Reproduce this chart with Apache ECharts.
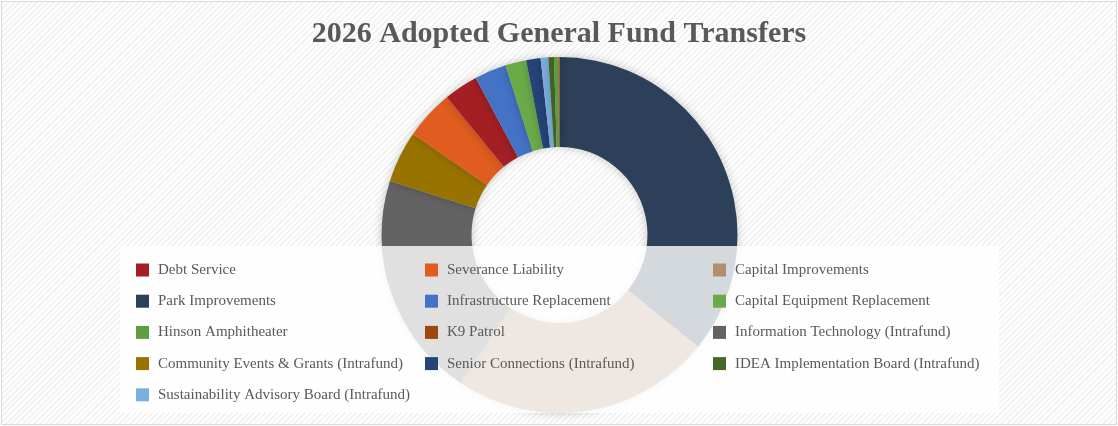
<!DOCTYPE html>
<html>
<head>
<meta charset="utf-8">
<script src="https://cdn.jsdelivr.net/npm/echarts@6/dist/echarts.min.js"></script>
<style>
  html, body {
    margin: 0;
    padding: 0;
    background: #fff;
  }
  .frame {
    position: absolute;
    left: 1px;
    top: 1px;
    width: 1114px;
    height: 422px;
    border: 1px solid #d9d9d9;
    background-color: #fff;
    background-image: repeating-linear-gradient(135deg, #f3f3f3 0px, #f3f3f3 2px, #fff 2px, #fff 4px);
  }
  #chart {
    position: absolute;
    left: 0;
    top: 0;
    width: 1118px;
    height: 426px;
  }
</style>
</head>
<body>
<div class="frame"></div>
<div id="chart"></div>
<script>
// slices in clockwise order from 12 o'clock (values in % of total)
var sliceNames = [
  "Park Improvements",
  "Capital Improvements",
  "Information Technology (Intrafund)",
  "Community Events & Grants (Intrafund)",
  "Severance Liability",
  "Debt Service",
  "Infrastructure Replacement",
  "Capital Equipment Replacement",
  "Senior Connections (Intrafund)",
  "Sustainability Advisory Board (Intrafund)",
  "IDEA Implementation Board (Intrafund)",
  "Hinson Amphitheater",
  "K9 Patrol"
];
var sliceValues = [35.8, 23.6, 20.5, 4.7, 4.5, 3.1, 2.9, 1.9, 1.3, 0.7, 0.5, 0.4, 0.1];
var sliceColors = [
  "#2c4059", "#b08e6e", "#636363", "#997300", "#e05c1f", "#a31f24",
  "#4472c4", "#6aab48", "#264478", "#7cafdd", "#43682b", "#5e9e3c", "#9e480e"
];

// legend columns as laid out in the picture
var legendCol1 = ["Debt Service", "Park Improvements", "Hinson Amphitheater",
  "Community Events & Grants (Intrafund)", "Sustainability Advisory Board (Intrafund)"];
var legendCol2 = ["Severance Liability", "Infrastructure Replacement", "K9 Patrol",
  "Senior Connections (Intrafund)"];
var legendCol3 = ["Capital Improvements", "Capital Equipment Replacement",
  "Information Technology (Intrafund)", "IDEA Implementation Board (Intrafund)"];

var pieData = sliceNames.map(function (n, i) {
  return { name: n, value: sliceValues[i], itemStyle: { color: sliceColors[i] } };
});

function legendColumn(data, left) {
  return {
    orient: "vertical",
    left: left,
    top: 262,
    padding: 0,
    itemWidth: 13,
    itemHeight: 13,
    itemGap: 15.2,
    icon: "rect",
    selectedMode: false,
    data: data,
    textStyle: {
      fontFamily: "Liberation Serif",
      fontSize: 15,
      lineHeight: 16,
      color: "#595959",
      padding: [0, 0, 0, 4]
    }
  };
}

var chart = echarts.init(document.getElementById("chart"));
chart.setOption({
  backgroundColor: "transparent",
  animation: false,
  title: {
    text: "2026 Adopted General Fund Transfers",
    left: "center",
    top: 14,
    textStyle: {
      fontFamily: "Liberation Serif",
      fontWeight: "bold",
      fontSize: 30,
      color: "#595959"
    }
  },
  legend: [
    legendColumn(legendCol1, 136),
    legendColumn(legendCol2, 425),
    legendColumn(legendCol3, 713)
  ],
  graphic: [
    {
      type: "rect",
      z: 3,
      shape: { x: 120, y: 246, width: 879, height: 167 },
      style: { fill: "rgba(255,255,255,0.8)" }
    }
  ],
  series: [
    {
      type: "pie",
      center: [559.5, 235],
      radius: [88, 178],
      startAngle: 90,
      clockwise: true,
      label: { show: false },
      labelLine: { show: false },
      emphasis: { disabled: true },
      itemStyle: {
        shadowBlur: 10,
        shadowColor: "rgba(0,0,0,0.22)"
      },
      data: pieData
    }
  ]
});
</script>
</body>
</html>
